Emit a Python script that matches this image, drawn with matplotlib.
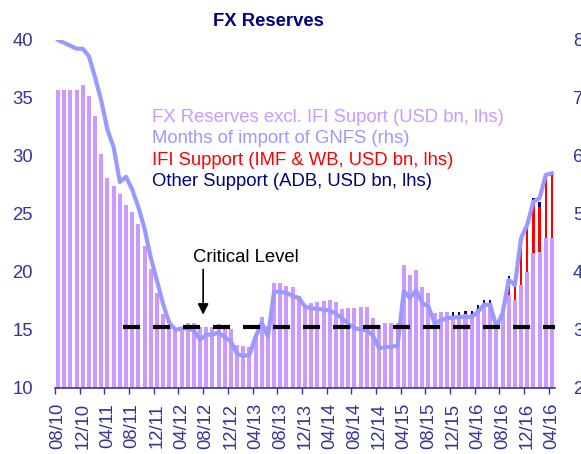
import matplotlib
matplotlib.use("Agg")
import matplotlib.pyplot as plt
import numpy as np

plt.rcParams['font.family'] = ['Liberation Sans', 'DejaVu Sans']

# ---- data ----
tick_labels = ["08/10", "12/10", "04/11", "08/11", "12/11", "04/12", "08/12", "12/12",
               "04/13", "08/13", "12/13", "04/14", "08/14", "12/14", "04/15", "08/15",
               "12/15", "04/16", "08/16", "12/16", "04/16"]

fx_excl_ifi = [35.66, 35.66, 35.66, 35.66, 36.1, 35.15, 33.45, 30.2, 28.1, 27.4,
               26.7, 25.8, 25.2, 24.1, 22.2, 20.2, 18.2, 16.4, 15.4, 14.9,
               15.1, 15.6, 15.6, 15.2, 15.2, 15.2, 15.5, 15.2, 15.1, 13.7,
               13.6, 13.55, 14.5, 16.1, 15.3, 19.0, 19.0, 18.8, 18.65, 17.9,
               17.1, 17.3, 17.4, 17.5, 17.6, 17.4, 16.8, 16.85, 16.9, 16.95,
               17.0, 16.0, 15.4, 15.55, 15.55, 15.55, 20.6, 19.7, 20.15, 18.65,
               18.2, 16.45, 16.5, 16.5, 16.2, 16.25, 16.35, 16.35, 16.8, 17.3,
               17.3, 15.3, 16.4, 18.0, 17.6, 18.85, 20.0, 21.6, 21.75, 22.9,
               22.95]

ifi_support = [0.0] * 73 + [1.3, 1.2, 4.1, 3.7, 4.5, 3.85, 5.2, 5.3]

other_support = ([0.0] * 64 + [0.3, 0.3, 0.3, 0.3, 0.3, 0.3, 0.3, 0.0, 0.0,
                               0.3, 0.2, 0.1, 0.15, 0.3, 0.4, 0.4, 0.35])

months_import = [8.0, 7.95, 7.9, 7.85, 7.85, 7.72, 7.35, 6.95, 6.45, 6.15,
                 5.55, 5.64, 5.42, 5.12, 4.75, 4.25, 3.85, 3.45, 3.12, 3.0,
                 3.02, 3.02, 2.99, 2.83, 2.91, 2.92, 2.95, 2.87, 2.80, 2.58,
                 2.55, 2.57, 2.88, 3.12, 2.88, 3.66, 3.65, 3.64, 3.58, 3.55,
                 3.40, 3.37, 3.36, 3.35, 3.33, 3.28, 3.20, 3.10, 3.03, 3.00,
                 2.99, 2.90, 2.68, 2.70, 2.71, 2.72, 3.67, 3.55, 3.68, 3.46,
                 3.40, 3.11, 3.16, 3.20, 3.21, 3.22, 3.22, 3.22, 3.31, 3.43,
                 3.43, 3.05, 3.28, 3.86, 3.77, 4.58, 4.81, 5.21, 5.27, 5.67,
                 5.70]

critical_level = 15.25  # USD bn (lhs)

# ---- styling ----
C_BAR = '#cc99ff'
C_LINE = '#9999ff'
C_IFI = '#ff0000'
C_OTHER = '#000080'
C_AXIS = '#333399'
FS = 13.3

n = len(fx_excl_ifi)
x = np.arange(n)
base = np.array(fx_excl_ifi)
ifi = np.array(ifi_support)
oth = np.array(other_support)

fig = plt.figure(figsize=(5.81, 4.54), dpi=100)
ax = fig.add_axes([55/581, 1-387.7/454, 500/581, (387.7-40)/454])

ax.bar(x, base - 10, bottom=10, width=0.65, color=C_BAR, zorder=2)
ax.bar(x, ifi, bottom=base, width=0.36, color=C_IFI, zorder=2)
ax.bar(x, oth, bottom=base + ifi, width=0.36, color=C_OTHER, zorder=2)

ax.set_xlim(-0.5, n - 0.5)
ax.set_ylim(10, 40)
ax.set_yticks(np.arange(10, 41, 5))
ax.tick_params(axis='y', length=0, pad=16, labelsize=FS, labelcolor=C_AXIS)

major = np.arange(0, n, 4)
ax.set_xticks(major)
ax.set_xticklabels(tick_labels, rotation=90, fontsize=FS, color=C_AXIS)
ax.set_xticks(major - 0.5, minor=True)
ax.tick_params(axis='x', which='major', length=0, pad=11)
ax.tick_params(axis='x', which='minor', length=4, width=1, color=C_AXIS, direction='out')

for s in ['top', 'left', 'right']:
    ax.spines[s].set_visible(False)
ax.spines['bottom'].set_color(C_AXIS)
ax.spines['bottom'].set_linewidth(1.2)
ax.spines['bottom'].set_zorder(3)

ax2 = ax.twinx()
ax2.set_ylim(2, 8)
ax2.set_yticks(np.arange(2, 9, 1))
ax2.tick_params(axis='y', length=0, pad=13, labelsize=FS, labelcolor=C_AXIS)
for s in ['top', 'left', 'right', 'bottom']:
    ax2.spines[s].set_visible(False)

def lhs_to_rhs(v):
    return 2 + (v - 10) / 5.0

ax2.plot(x, months_import, color=C_LINE, lw=3, solid_joinstyle='round', zorder=3)
ax2.plot([10.5, n - 0.5], [lhs_to_rhs(critical_level)] * 2, color='black', lw=3,
         linestyle=(0, (4.1, 3.1)), zorder=4)
ax2.annotate('', xy=(23.5, lhs_to_rhs(16.3)), xytext=(23.5, lhs_to_rhs(20.2)),
             arrowprops=dict(arrowstyle='-|>', color='black', lw=1.2,
                             mutation_scale=16, shrinkA=0, shrinkB=0))
ax2.text(21.8, lhs_to_rhs(21.2), 'Critical Level', fontsize=FS, color='black',
         ha='left', va='center')

fig.text(268.5/581, 1-22/454, 'FX Reserves', fontsize=FS, fontweight='bold',
         color=C_OTHER, ha='center', va='center')

legend_items = [("FX Reserves excl. IFI Suport (USD bn, lhs)", C_BAR, 117),
                ("Months of import of GNFS (rhs)", C_LINE, 138.5),
                ("IFI Support (IMF & WB, USD bn, lhs)", C_IFI, 160),
                ("Other Support (ADB, USD bn, lhs)", C_OTHER, 181)]
for txt, col, yy in legend_items:
    fig.text(152/581, 1-yy/454, txt, fontsize=FS, color=col, ha='left', va='center')

fig.savefig('out.png', dpi=100)
